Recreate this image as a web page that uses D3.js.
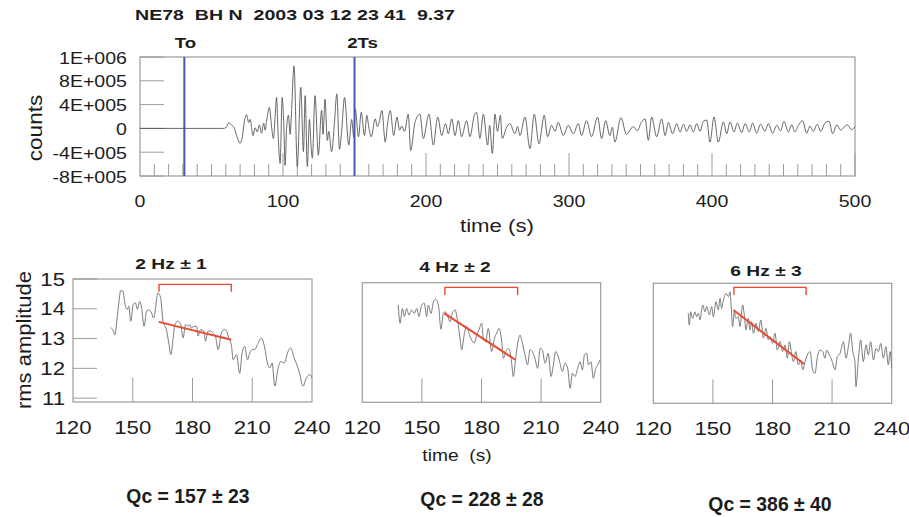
<!DOCTYPE html>
<html><head><meta charset="utf-8">
<script src="https://cdn.jsdelivr.net/npm/d3@7"></script>
<style>
body{margin:0;background:#fff}
svg{display:block;background:#fff}
text{font-family:"Liberation Sans",Arial,Helvetica,sans-serif;fill:#1c1c1c;white-space:pre}
</style></head><body>
<svg id="c" width="909" height="517"></svg>
<script>
// ---------------- DATA ----------------
const chartTitle = "NE78  BH N  2003 03 12 23 41  9.37";
// seismogram: time (s) and counts in units of 1E+005
const seisTime = [0,58,60,62,64,66,68,70,71.5,73,74.5,76,77,79,80.5,82,83.5,85,86.5,87.5,88.5,90.5,92,93.3,94.5,95.5,96.5,98,99.4,100.5,101.5,102.5,103.8,105,106,107.7,110,112.4,114.3,115.5,117,118.5,119.5,120.5,122.4,124.7,127,128,129.4,131,132,134,136,137.6,139.5,141,143,146,148,149.5,
150.5,152.8,154.7,157,158.6,160,161.7,164.5,166,167,169.2,171.5,173,175,177.4,179.7,181.5,183,185,187.6,189.3,192.3,
195.8,198.1,202.1,205.1,208.2,211,213.7,215.6,218,220.3,222.6,224.9,228.4,230.7,233.8,235.4,237.7,240.1,243.1,244.5,246.4,248.2,250,252,253.3,256.4,258.7,262.2,264,265.7,269.2,272.7,275.7,279,282.7,285,287.8,290.2,292.5,296,299.5,303,306.5,308.8,312.3,315.8,320,322.8,325.6,328.6,330.3,332.1,336.3,340.2,
345,347.8,350.5,353.2,355.5,357.8,361.3,364.8,367.2,369.5,372.5,375.3,377.7,380,382.3,384.6,387,389.3,391.6,394,396.3,398.6,401.4,404.4,408,410.3,412.6,415.4,417.7,420.8,423.1,426.1,428.4,431.2,434,437,439.4,442.4,445.2,448,450.3,453.4,455.7,458,460.4,463.4,466.2,468.5,470.8,473.6,476,479,481.8,484.4,487.2,490,492.3,494.6,497.6,500];
const seisCounts = [0,0,0.1,0.9,0.6,0,-1.5,-2.5,-1.5,1.2,2.3,1.0,1.5,-1.2,0.1,-0.6,0.6,-0.8,0.9,-0.3,1.2,3.5,0.3,-1.7,2.0,5.2,-0.5,-5.9,5.2,1.0,-6.2,0,2.2,-1.0,3.0,10.5,-6.4,6.9,-3.9,5.5,-6.4,1.5,-2.5,-5.0,5.5,-4.5,3.0,-1.0,4.9,-2.0,-0.5,-3.9,1.0,5.8,-3.5,-0.5,5.2,-2.8,1.5,-1.5,
3.3,-1.4,2.7,-1.2,2.2,0.2,-1.4,1.6,0.3,0.8,3.0,-2.3,0.5,3.0,-1.2,1.9,-0.3,0.4,-0.5,2.4,-3.7,1.0,
2.4,-1.7,2.4,-2.8,1.9,-1.2,0.8,-0.9,1.6,-1.2,1.3,-1.4,1.3,-1.4,2.2,2.7,-1.7,2.4,-2.8,0.5,-4.2,2.4,-0.5,2.2,-1.7,0.2,0.8,-0.9,0.3,-1.2,1.9,-3.4,2.4,-2.6,2.2,-1.4,0.5,-0.5,1.0,-1.2,0.5,-0.9,0.8,-1.2,1.3,-1.4,1.9,-1.7,1.3,-1.2,0.2,-2.3,1.8,-1.0,
0.3,-0.4,1.0,1.6,-2.0,1.9,-1.4,1.6,-1.2,1.0,-0.9,0.8,-0.6,0.7,-0.5,0.6,-0.6,0.8,-0.5,1.2,1.4,-2.3,1.9,-2.3,1.1,-0.9,1.1,-0.6,0.9,-0.7,0.8,-0.6,0.9,-0.8,0.7,-0.5,0.8,-0.8,0.5,-0.4,1.2,-0.6,0.6,-0.6,0.5,1.3,-0.8,0.4,-0.5,0.7,-0.5,0.9,1.2,-0.9,0.6,-0.3,0.2,0.6,-0.2,0.3];
const markerNames = ["To", "2Ts"];
const markerTimes = [31, 150];
const topYTickValues = [-8e5, -4e5, 0, 4e5, 8e5, 1.2e6];
const topYTickLabels = ["-8E+005", "-4E+005", "0", "4E+005", "8E+005", "1E+006"];
const topXTickLabels = [0, 100, 200, 300, 400, 500];

// coda rms amplitude windows (time s, rms amplitude)
const rms2Hz = [[138.9,13.36],[140,13.30],[141,13.13],[142.5,13.9],[144,14.61],[145.1,14.59],[146.3,14.09],[147.3,13.98],[148,14.09],[149,13.58],[150.2,14.14],[151.3,14.2],[152.3,13.98],[153.5,14.25],[154.3,14.09],[155.7,13.41],[156.9,13.92],[158,13.97],[159.4,13.86],[160.5,13.69],[162.7,14.53],[164,14.37],[165.2,13.58],[166.9,13.30],[168.1,12.85],[169.1,12.46],[170.2,12.96],[171.1,13.47],[172.8,13.58],[174.1,13.47],[175.3,13.02],[176.5,13.47],[177.8,13.41],[178.6,13.47],[179.4,13.36],[180.8,13.41],[182,13.41],[182.8,13.08],[184.1,13.30],[185.8,13.25],[186.5,12.91],[187.8,13.25],[189.1,13.25],[190.3,13.19],[191.5,13.08],[192.9,12.63],[194.5,13.19],[195.9,13.30],[197.1,13.25],[198.2,13.02],[199.6,12.74],[200.4,12.29],[202.1,12.46],[203.7,11.83],[204.9,12.52],[206.2,12.74],[207.6,12.29],[208.8,12.52],[210,12.63],[211.3,12.63],[212.6,12.80],[214.6,13.02],[216.3,12.68],[217.6,12.18],[218.8,12.01],[220,12.18],[221.3,11.40],[223,12.01],[224.3,12.23],[226,12.18],[228,12.57],[229.3,12.68],[231,12.35],[232.7,12.07],[233.9,11.79],[235.5,11.40],[237.2,11.68],[238.9,11.79],[240,11.67]];
const rms4Hz = [[138.1,14.23],[139.0,13.60],[140.2,14.11],[141.2,13.83],[142.3,14.11],[143.5,13.88],[144.9,14.06],[146.2,13.94],[147.4,14.11],[148.5,13.83],[149.9,14.23],[151.2,14.29],[152.4,13.83],[153.2,14.23],[154.6,13.94],[155.8,14.34],[156.9,14.43],[158.3,14.23],[159.6,13.39],[160.8,13.94],[161.6,14.00],[163.0,13.83],[164.2,13.65],[165.3,13.94],[166.7,14.06],[168.0,13.65],[169.2,13.08],[170.0,12.68],[171.4,13.25],[172.5,13.48],[173.7,13.25],[175.1,13.02],[176.4,12.91],[177.6,13.19],[178.7,13.37],[180.1,13.60],[180.9,13.08],[182.1,12.96],[183.4,13.42],[185.1,12.62],[186.5,13.08],[187.6,13.25],[188.8,13.42],[190.2,12.96],[191.0,12.39],[192.2,12.62],[193.5,12.73],[194.3,12.62],[195.2,12.22],[196.0,11.76],[197.2,12.39],[198.2,12.91],[199.4,13.19],[200.6,12.91],[201.9,12.50],[203.2,12.16],[204.4,12.68],[205.6,12.62],[206.9,12.39],[208.3,12.04],[209.5,12.73],[210.6,12.68],[212.0,12.22],[213.6,12.56],[215.0,11.76],[216.2,12.16],[217.3,12.62],[218.4,12.50],[219.5,12.22],[220.7,11.93],[222.0,12.22],[223.4,12.04],[224.6,11.35],[225.7,11.87],[227.1,11.76],[228.4,12.04],[229.6,12.27],[230.8,11.99],[231.8,12.50],[233.0,12.56],[233.8,12.16],[235.1,12.27],[236.3,11.70],[237.5,12.04],[238.5,12.16],[239.7,12.33]];
const rms6Hz = [[137.6,13.97],[138.1,13.56],[138.8,14.02],[139.8,13.79],[141.0,14.02],[141.8,13.85],[142.7,13.97],[143.5,13.74],[144.9,14.25],[146.0,14.02],[146.9,14.20],[148.2,13.91],[149.4,14.20],[150.2,13.85],[151.6,14.37],[152.7,14.08],[153.6,14.48],[154.4,14.14],[155.3,14.42],[156.6,14.65],[157.8,14.54],[158.6,14.71],[159.4,13.97],[159.9,13.51],[160.8,14.02],[161.6,13.79],[162.8,13.85],[163.6,13.51],[165.0,14.25],[165.7,13.97],[166.7,13.39],[167.8,13.79],[168.7,13.39],[169.5,13.68],[170.4,13.28],[171.7,13.62],[172.9,13.34],[174.1,13.74],[175.4,13.11],[176.7,13.45],[177.9,13.05],[178.7,13.16],[180.1,12.93],[181.3,13.28],[182.4,12.70],[183.8,12.99],[185.1,12.65],[186.3,12.88],[187.5,12.42],[188.5,12.99],[189.7,12.53],[190.5,12.30],[191.8,12.65],[193.0,12.19],[194.2,12.36],[195.2,12.02],[196.4,12.30],[197.5,12.53],[198.9,12.65],[200.2,12.02],[201.4,11.90],[202.6,12.47],[203.9,12.70],[205.3,12.65],[206.4,12.42],[207.3,12.70],[208.6,12.53],[209.8,12.36],[211.5,12.02],[212.6,12.47],[214.0,12.59],[215.7,12.99],[217.0,12.42],[218.2,12.82],[219.3,13.28],[220.4,12.65],[221.5,12.30],[222.0,11.44],[223.2,12.36],[224.4,13.05],[225.7,12.30],[227.1,12.88],[228.2,12.53],[229.4,12.99],[230.8,12.36],[232.1,12.76],[233.3,12.65],[234.5,12.93],[235.8,12.42],[237.1,12.82],[238.3,12.19],[239.2,12.65],[240.0,12.07]];
const bandTitles = ["2 Hz \u00B1 1", "4 Hz \u00B1 2", "6 Hz \u00B1 3"];
const qcLabels = ["Qc = 157 \u00B1 23", "Qc = 228 \u00B1 28", "Qc = 386 \u00B1 40"];
const fitStartTime = [163.0, 161.3, 160.3];
const fitStartAmp  = [13.56, 13.94, 14.08];
const fitEndTime   = [199.5, 197.2, 195.9];
const fitEndAmp    = [12.96, 12.33, 12.22];
const winStart = [163.2, 161.6, 160.6];
const winEnd   = [199.5, 198.2, 196.9];
const winTop   = [14.82, 14.84, 14.86];
const winFoot  = [14.57, 14.575, 14.60];
const lowXTickLabels = [120, 150, 180, 210, 240];
const lowYTickLabels = [11, 12, 13, 14, 15];

// ---------------- DRAWING ----------------
const svg = d3.select("#c");
const FRAME = "#9c9c9c", RED = "#ea4a30", BLUE = "#3f5cae";

function txt(str, x, y, o = {}) {
  let tr = `translate(${x},${y})`;
  if (o.rot) tr += ` rotate(${o.rot})`;
  tr += ` scale(${o.sx || 1},1)`;
  return svg.append("text").attr("transform", tr)
    .attr("text-anchor", o.anchor || "middle")
    .style("font-size", (o.size || 16) + "px")
    .style("font-weight", o.bold ? "bold" : "normal")
    .text(str);
}

// ---- top seismogram ----
const T = {l: 140, r: 855, t: 57, b: 176};
const xT = d3.scaleLinear().domain([0, 500]).range([T.l, T.r]);
const yT = d3.scaleLinear().domain([-8e5, 1.2e6]).range([T.b, T.t]);

txt(chartTitle, 135, 20, {anchor: "start", bold: true, size: 15.5})
  .attr("textLength", 320).attr("lengthAdjust", "spacingAndGlyphs");

svg.append("rect").attr("x", T.l).attr("y", T.t).attr("width", T.r - T.l).attr("height", T.b - T.t)
  .attr("fill", "none").attr("stroke", FRAME).attr("stroke-width", 1.2);

// y ticks
topYTickValues.forEach((v, i) => {
  svg.append("line").attr("x1", T.l).attr("x2", T.l + 24).attr("y1", yT(v)).attr("y2", yT(v))
    .attr("stroke", FRAME).attr("stroke-width", 1);
  txt(topYTickLabels[i], 127, yT(v) + 6.5, {anchor: "end", size: 16.3, sx: 1.2});
});
// x ticks (minor every 10 s, major every 100 s)
xT.ticks(50).forEach(v => {
  if (v === 0) return;
  const major = v % 100 === 0;
  svg.append("line").attr("x1", xT(v)).attr("x2", xT(v)).attr("y1", T.b).attr("y2", T.b - (major ? 23 : 12))
    .attr("stroke", FRAME).attr("stroke-width", 1);
});
topXTickLabels.forEach(v => txt(String(v), xT(v), 207, {size: 16.3, sx: 1.2}));
txt("time (s)", 497, 232, {size: 18.5, sx: 1.2});
txt("counts", 42, 128, {rot: -90, size: 20, sx: 1.13});

// seismogram trace
const seis = seisTime.map((t, i) => [t, seisCounts[i] * 1e5]);
svg.append("path").datum(seis)
  .attr("d", d3.line().x(d => xT(d[0])).y(d => yT(d[1])).curve(d3.curveMonotoneX))
  .attr("fill", "none").attr("stroke", "#4d4d4d").attr("stroke-width", 0.85);

// markers
const markerDx = [1, 8];
markerTimes.forEach((t, i) => {
  svg.append("line").attr("x1", xT(t)).attr("x2", xT(t)).attr("y1", T.t).attr("y2", T.b)
    .attr("stroke", BLUE).attr("stroke-width", 2);
  txt(markerNames[i], xT(t) + markerDx[i], 48, {bold: true, size: 15.5, sx: 1.2});
});

// ---- lower panels ----
const series = [rms2Hz, rms4Hz, rms6Hz];
const P = [
  {l: 73,    r: 312,   t: 279,   b: 402,   tx: 171, ty: 269, qx: 188, qy: 503, yaxis: true},
  {l: 362.3, r: 600.7, t: 282.7, b: 402.3, tx: 455, ty: 272, qx: 482, qy: 506, yaxis: false},
  {l: 653.3, r: 891.7, t: 283.3, b: 403.3, tx: 766, ty: 276, qx: 770, qy: 511, yaxis: false}
];
P.forEach((p, i) => {
  const x = d3.scaleLinear().domain([120, 240]).range([p.l, p.r]);
  const y = d3.scaleLinear().domain([10.87, 15]).range([p.b, p.t]);
  svg.append("rect").attr("x", p.l).attr("y", p.t).attr("width", p.r - p.l).attr("height", p.b - p.t)
    .attr("fill", "none").attr("stroke", FRAME).attr("stroke-width", 1.2);
  lowXTickLabels.forEach(v => {
    if (v > 120 && v < 240)
      svg.append("line").attr("x1", x(v)).attr("x2", x(v)).attr("y1", p.b).attr("y2", p.b - 24)
        .attr("stroke", FRAME).attr("stroke-width", 1);
    txt(String(v), x(v), p.b + 32, {size: 18.5, sx: 1.2});
  });
  if (p.yaxis) {
    lowYTickLabels.forEach(v => {
      svg.append("line").attr("x1", p.l).attr("x2", p.l + 24).attr("y1", y(v)).attr("y2", y(v))
        .attr("stroke", FRAME).attr("stroke-width", 1);
      txt(String(v), p.l - 8, y(v) + 6.5, {anchor: "end", size: 18.5, sx: 1.2});
    });
  }
  svg.append("path").datum(series[i])
    .attr("d", d3.line().x(d => x(d[0])).y(d => y(d[1])).curve(d3.curveMonotoneX))
    .attr("fill", "none").attr("stroke", "#7b7b7b").attr("stroke-width", 1);
  // window bracket
  svg.append("path")
    .attr("d", `M${x(winStart[i])},${y(winFoot[i])}V${y(winTop[i])}H${x(winEnd[i])}V${y(winFoot[i])}`)
    .attr("fill", "none").attr("stroke", RED).attr("stroke-width", 1.4);
  // fit line
  svg.append("line").attr("x1", x(fitStartTime[i])).attr("y1", y(fitStartAmp[i]))
    .attr("x2", x(fitEndTime[i])).attr("y2", y(fitEndAmp[i]))
    .attr("stroke", RED).attr("stroke-width", 2);
  txt(bandTitles[i], p.tx, p.ty, {bold: true, size: 15.5, sx: 1.24});
  txt(qcLabels[i], p.qx, p.qy, {bold: true, size: 20, sx: 0.97});
});
txt("rms amplitude", 31, 340, {rot: -90, size: 20, sx: 1.1});
txt("time  (s)", 457, 461, {size: 16, sx: 1.2});
</script>
</body></html>
